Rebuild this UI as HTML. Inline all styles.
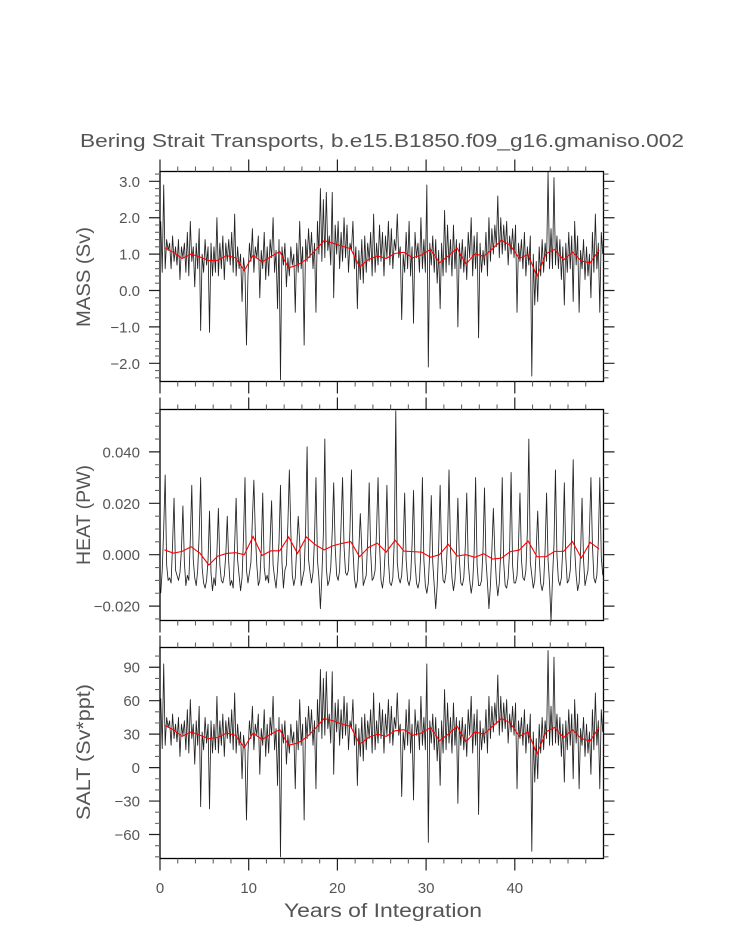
<!DOCTYPE html>
<html><head><meta charset="utf-8"><style>
body{margin:0;background:#fff}
svg{display:block;font-family:"Liberation Sans",sans-serif}
</style></head><body>
<svg id="chart" width="733" height="945" viewBox="0 0 733 945" xmlns="http://www.w3.org/2000/svg">
<text x="382" y="147" text-anchor="middle" font-size="18" fill="#555" textLength="604" lengthAdjust="spacingAndGlyphs">Bering Strait Transports, b.e15.B1850.f09_g16.gmaniso.002</text>
<text x="383" y="917" text-anchor="middle" font-size="19" fill="#555" textLength="198" lengthAdjust="spacingAndGlyphs">Years of Integration</text>
<g id="g"></g>
</svg>
<script>
const xTicks=[0,10,20,30,40];
const massTicks=[3.0,2.0,1.0,0.0,-1.0,-2.0];
const massTickLabels=["3.0","2.0","1.0","0.0","\u22121.0","\u22122.0"];
const heatTicks=[0.04,0.02,0,-0.02];
const heatTickLabels=["0.040","0.020","0.000","\u22120.020"];
const saltTicks=[90,60,30,0,-30,-60];
const saltTickLabels=["90","60","30","0","\u221230","\u221260"];
const massAnnual=[1.18,1.05,0.88,1.0,0.92,0.82,0.83,0.96,0.9,0.55,0.97,0.78,0.93,1.07,0.62,0.7,0.85,1.1,1.37,1.3,1.22,1.15,0.65,0.85,0.95,0.88,1.02,1.05,0.9,0.98,1.13,0.76,0.95,1.16,0.72,1.01,0.94,1.15,1.38,1.24,0.88,0.99,0.38,1.01,1.13,0.84,1.06,0.81,0.76,1.11];
const heatAnnual=[0.0019,0.0006,0.0013,0.0031,0.0006,-0.004,-0.0006,0.0005,0.0008,0.0,0.0071,-0.0003,0.0015,0.0015,0.0069,0.0005,0.0069,0.0039,0.0019,0.0035,0.0044,0.0051,-0.0008,0.0028,0.0045,0.001,0.0056,0.0014,0.0012,0.001,-0.001,0.0,0.004,-0.0005,0.0,-0.001,0.0004,-0.0017,-0.0013,0.0012,0.0018,0.0053,-0.0008,-0.0008,0.0013,0.0013,0.0051,-0.0013,0.0048,0.0022];
const saltAnnual=[38,34,28,32,29,26,27,31,29,18,31,25,30,34,20,22,27,35,44,42,39,37,21,27,30,28,33,34,29,31,36,24,30,37,23,32,30,37,44,40,28,32,12,32,36,27,34,26,24,36];
const massMonthly=[1.9,0.5,2.9,0.6,1.4,1.1, 1.3,0.6,1.5,0.8,1.2,0.7, 1.4,0.3,1.2,0.9,1.3,0.5, 1.6,0.4,1.9,0.8,1.2,0.1, 1.3,0.6,1.7,-1.1,1.0,0.5,
1.4,0.7,1.2,-1.15,1.3,0.4, 1.2,0.5,2.0,0.4,1.3,0.6, 1.5,0.3,1.3,0.8,1.4,0.7, 1.6,0.5,2.1,0.4,1.2,0.6, 1.0,-0.3,0.9,0.5,-1.5,0.4,
1.3,0.8,1.7,0.5,1.2,0.9, 1.5,-0.2,1.1,0.6,1.6,0.3, 1.2,0.4,1.4,0.9,2.0,0.5, 1.1,-0.5,1.4,-2.45,1.2,0.7, 1.3,0.1,0.9,0.4,1.2,0.7,
1.0,-0.6,1.3,0.5,1.9,0.6, 1.2,-1.5,1.4,0.8,1.7,0.9, 1.6,0.6,1.3,-0.6,1.9,1.0, 2.8,0.8,2.5,0.9,2.7,1.1, 1.5,0.7,2.7,-0.2,1.8,1.0,
1.9,0.6,1.6,0.8,2.0,0.9, 1.8,0.5,1.3,1.1,1.9,0.6, 1.2,-0.5,1.1,0.3,1.4,0.2, 1.5,0.5,1.3,0.8,1.6,0.4, 2.1,0.5,1.3,0.7,1.8,0.8,
1.6,0.4,1.5,0.9,1.9,0.7, 1.7,0.6,1.4,1.1,2.1,0.9, 1.2,-0.8,1.0,0.5,1.6,0.6, 1.9,0.4,1.2,-0.9,1.6,0.9, 1.3,0.5,2.0,0.6,1.4,0.5,
2.9,-2.1,1.3,0.7,1.5,0.5, 1.4,0.2,1.1,-0.5,1.3,0.4, 2.2,0.5,1.8,0.7,1.4,0.4, 1.8,0.6,1.4,-1.0,1.3,0.6, 1.4,0.5,1.2,0.3,1.6,0.9,
2.0,0.4,1.5,0.6,1.6,-1.3, 1.3,0.5,1.1,0.7,1.6,0.4, 2.0,0.8,1.7,1.0,1.8,1.2, 2.6,0.9,2.0,1.0,1.8,1.1, 1.9,0.7,1.5,1.0,1.7,0.9,
1.8,-0.6,1.3,0.8,1.4,0.6, 1.6,0.4,1.2,0.7,1.5,-2.35, 1.0,-0.4,0.8,-0.3,1.2,0.4, 1.4,0.5,1.3,0.8,3.25,0.6, 1.7,0.6,3.1,0.7,1.5,0.6,
1.4,0.3,1.2,-0.4,1.3,0.5, 1.6,0.6,1.5,-0.3,1.9,0.7, 1.5,-0.6,1.1,0.6,1.4,0.3, 1.2,0.4,1.0,-0.2,1.6,0.5, 2.1,0.6,1.3,-0.6,1.6,1.0];
const heatMonthly=[-0.015,-0.006,0.010,0.031,-0.004,-0.010, -0.009,-0.011,0.004,0.022,-0.006,-0.008, -0.010,-0.007,0.002,0.019,-0.003,-0.012, -0.008,-0.010,0.006,0.027,-0.002,-0.009, -0.012,-0.006,0.008,0.030,-0.005,-0.011,
-0.013,-0.010,-0.002,0.017,-0.007,-0.014, -0.009,-0.012,0.001,0.018,-0.004,-0.010, -0.011,-0.008,0.000,0.015,-0.003,-0.012, -0.010,-0.013,0.004,0.022,-0.002,-0.008, -0.014,-0.009,0.007,0.030,-0.006,-0.011,
-0.007,-0.003,0.014,0.029,0.008,-0.004, -0.012,-0.010,0.002,0.024,-0.005,-0.010, -0.008,-0.011,0.006,0.021,-0.004,-0.009, -0.013,-0.006,0.005,0.027,-0.003,-0.013, -0.006,-0.004,0.012,0.033,0.009,-0.008,
-0.012,-0.009,0.003,0.015,0.005,-0.012, -0.009,-0.006,0.010,0.042,-0.002,-0.007, -0.011,-0.007,0.006,0.030,-0.002,-0.009, -0.021,-0.008,0.008,0.045,-0.005,-0.012, -0.010,-0.005,0.009,0.028,0.003,-0.008,
-0.010,-0.006,0.012,0.030,0.003,-0.007, -0.008,-0.006,0.010,0.033,0.002,-0.009, -0.013,-0.010,0.002,0.016,0.002,-0.012, -0.010,-0.008,0.006,0.028,0.001,-0.010, -0.009,-0.006,0.010,0.030,0.004,-0.010,
-0.013,-0.008,0.004,0.027,-0.002,-0.011, -0.012,-0.009,0.006,0.056,-0.003,-0.009, -0.011,-0.008,0.003,0.024,-0.002,-0.010, -0.012,-0.009,0.004,0.025,-0.003,-0.011, -0.013,-0.010,0.002,0.030,-0.002,-0.012,
-0.015,-0.011,0.001,0.023,-0.003,-0.012, -0.021,-0.012,0.003,0.027,-0.001,-0.010, -0.011,-0.007,0.006,0.033,0.002,-0.009, -0.014,-0.010,0.001,0.022,-0.002,-0.011, -0.012,-0.009,0.003,0.024,-0.003,-0.010,
-0.015,-0.011,0.001,0.030,-0.004,-0.012, -0.012,-0.010,0.002,0.026,-0.002,-0.011, -0.021,-0.012,0.002,0.018,0.001,-0.010, -0.016,-0.011,0.001,0.030,-0.003,-0.012, -0.013,-0.009,0.002,0.032,-0.004,-0.011,
-0.011,-0.008,0.004,0.024,-0.002,-0.009, -0.010,-0.006,0.009,0.045,-0.003,-0.008, -0.013,-0.010,0.002,0.017,-0.001,-0.011, -0.014,-0.011,0.002,0.024,-0.002,-0.011, -0.026,-0.009,0.004,0.033,0.000,-0.010,
-0.012,-0.009,0.003,0.028,-0.001,-0.011, -0.010,-0.006,0.008,0.037,0.002,-0.008, -0.014,-0.011,0.001,0.022,-0.002,-0.012, -0.009,-0.006,0.009,0.030,0.004,-0.009, -0.011,-0.008,0.005,0.030,-0.001,-0.008];
const saltMonthly=[62,17,93,20,45,36, 42,20,48,26,39,23, 45,10,39,29,42,16, 52,13,61,26,39,3, 42,20,55,-35,32,16,
45,22,39,-37,42,13, 39,16,64,13,42,20, 48,10,42,26,45,22, 52,16,67,13,39,20, 32,-10,29,16,-47,13,
42,26,55,16,39,29, 48,-6,35,20,52,10, 39,13,45,29,64,16, 35,-16,45,-80,39,22, 42,3,29,13,39,22,
32,-19,42,16,61,20, 39,-47,45,26,55,29, 52,20,42,-19,61,32, 88,26,80,29,86,35, 48,22,86,-6,58,32,
61,20,52,26,64,29, 58,16,42,35,61,20, 39,-16,35,10,45,6, 48,16,42,26,52,13, 67,16,42,22,58,26,
52,13,48,29,61,22, 55,20,45,35,67,29, 39,-26,32,16,52,20, 61,13,39,-29,52,29, 42,16,64,20,45,16,
93,-67,42,22,48,16, 45,6,35,-16,42,13, 70,16,58,22,45,13, 58,20,45,-32,42,20, 45,16,39,10,52,29,
64,13,48,20,52,-42, 42,16,35,22,52,13, 64,26,55,32,58,39, 83,29,64,32,58,35, 61,22,48,32,55,29,
58,-19,42,26,45,20, 52,13,39,22,48,-75, 32,-13,26,-10,39,13, 45,16,42,26,105,20, 55,20,99,22,48,20,
45,10,39,-13,42,16, 52,20,48,-10,61,22, 48,-19,35,20,45,10, 39,13,32,-6,52,16, 67,20,42,-19,52,32];

const NS="http://www.w3.org/2000/svg";
const G=document.getElementById('g');
const X0=160,X1=603.5,XMAX=50;
function xs(t){return X0+(X1-X0)*t/XMAX;}
function mk(tag,attrs,parent){const e=document.createElementNS(NS,tag);for(const k in attrs)e.setAttribute(k,attrs[k]);(parent||G).appendChild(e);return e;}
function linScale(vTop,vBot,yTop,yBot){return v=>yTop+(vTop-v)*(yBot-yTop)/(vTop-vBot);}

const panels=[
 {name:'mass',top:171.5,bot:381.5,vTop:3.27,vBot:-2.5,ticks:massTicks,labels:massTickLabels,minor:0.2,monthly:massMonthly,annual:massAnnual,title:'MASS (Sv)',tx:84,ty:277,tl:100},
 {name:'heat',top:409.5,bot:620.5,vTop:0.0565,vBot:-0.0256,ticks:heatTicks,labels:heatTickLabels,minor:0.005,monthly:heatMonthly,annual:heatAnnual,title:'HEAT (PW)',tx:84,ty:515,tl:100},
 {name:'salt',top:647.5,bot:858.5,vTop:107.7,vBot:-81.5,ticks:saltTicks,labels:saltTickLabels,minor:10,monthly:saltMonthly,annual:saltAnnual,title:'SALT (Sv*ppt)',tx:84,ty:752,tl:136}
];
panels.forEach((p,pi)=>{
 const ys=linScale(p.vTop,p.vBot,p.top,p.bot);
 const grp=mk('g',{});
 
 
 let d='';
 p.monthly.forEach((v,i)=>{const t=(i+0.5)/6;d+=(i?'L':'M')+xs(t).toFixed(2)+' '+ys(v).toFixed(2);});
 const ml=mk('path',{d:d,fill:'none',stroke:'#222','stroke-width':0.85,'stroke-linejoin':'round'},grp);
 
 
 d='';
 p.annual.forEach((v,i)=>{const t=i+0.5;d+=(i?'L':'M')+xs(t).toFixed(2)+' '+ys(v).toFixed(2);});
 const al=mk('path',{d:d,fill:'none',stroke:'#f00','stroke-width':1.1},grp);
 
 
 const fr=mk('rect',{x:X0,y:p.top,width:X1-X0,height:p.bot-p.top,fill:'none',stroke:'#000','stroke-width':1.3},grp);
 
 
 let td='',tm='';
 const step=p.minor;
 const start=Math.ceil(p.vBot/step);
 for(let k=start;k*step<=p.vTop+1e-9;k++){
   const v=k*step;const y=ys(v);
   const major=p.ticks.some(tv=>Math.abs(tv-v)<step/4);
   const L=major?11:5;
   const s='M'+X0+' '+y.toFixed(2)+'h'+(-L)+'M'+X1+' '+y.toFixed(2)+'h'+L;
   if(major)td+=s;else tm+=s;
 }
 for(let yr=0;yr<50;yr+=2){
   const x=xs(yr);const major=yr%10===0;const L=major?12:5;
   const s='M'+x.toFixed(2)+' '+p.top+'v'+(-L)+'M'+x.toFixed(2)+' '+p.bot+'v'+L;
   if(major)td+=s;else tm+=s;
 }
 const tk=mk('path',{d:td,stroke:'#222','stroke-width':1.2,fill:'none'},grp);
 
 
 const tk2=mk('path',{d:tm,stroke:'#666','stroke-width':1.1,fill:'none'},grp);
 
 
 p.ticks.forEach((v,i)=>{
   const t=mk('text',{x:140,y:(ys(v)+5.5).toFixed(2),'text-anchor':'end','font-size':15,fill:'#555'},grp);
   t.textContent=p.labels[i];
   
   
 });
 const yt=mk('text',{x:p.tx,y:p.ty,'text-anchor':'middle','font-size':19,fill:'#555',transform:'rotate(-90 '+p.tx+' '+p.ty+')',dy:6,textLength:p.tl,lengthAdjust:'spacingAndGlyphs'},grp);
 yt.textContent=p.title;
 
 
});
xTicks.forEach(v=>{
 const t=mk('text',{x:xs(v).toFixed(2),y:893,'text-anchor':'middle','font-size':15,fill:'#555'});
 t.textContent=String(v);
 
 
});
</script>
</body></html>
